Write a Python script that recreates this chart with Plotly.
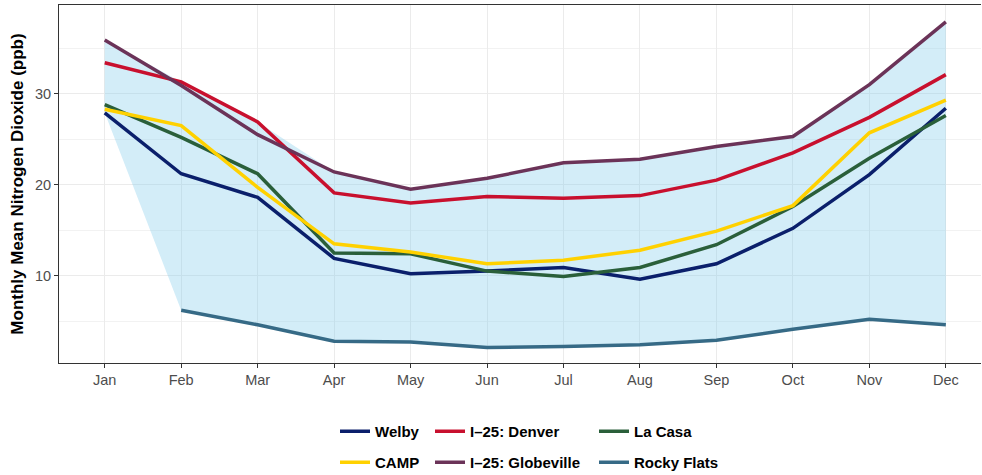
import plotly.graph_objects as go

months = ["Jan", "Feb", "Mar", "Apr", "May", "Jun", "Jul", "Aug", "Sep", "Oct", "Nov", "Dec"]

welby = [27.9, 21.2, 18.6, 11.9, 10.2, 10.5, 10.9, 9.6, 11.3, 15.2, 21.1, 28.4]
denver = [33.4, 31.3, 26.9, 19.1, 18.0, 18.7, 18.5, 18.8, 20.5, 23.5, 27.4, 32.1]
la_casa = [28.8, 25.2, 21.2, 12.5, 12.4, 10.5, 9.9, 10.9, 13.4, 17.6, 22.9, 27.6]
camp = [28.3, 26.5, 19.7, 13.5, 12.6, 11.3, 11.7, 12.8, 14.9, 17.7, 25.7, 29.3]
globeville = [35.9, 30.9, 25.5, 21.4, 19.5, 20.7, 22.4, 22.8, 24.2, 25.3, 31.0, 37.9]
rocky_flats = [None, 6.2, 4.6, 2.8, 2.7, 2.1, 2.2, 2.4, 2.9, 4.1, 5.2, 4.6]

y_ticks = [10, 20, 30]
y_minor = [5, 15, 25, 35]

# name, values, colour, legend id, legend (x, y) in container px
series = [
    ("Welby", welby, "#0A1F6B", "legend", (335, 415)),
    ("I\u201325: Denver", denver, "#C8102E", "legend2", (430, 415)),
    ("La Casa", la_casa, "#2A5F3A", "legend3", (594, 415)),
    ("CAMP", camp, "#FFD100", "legend4", (335, 446)),
    ("I\u201325: Globeville", globeville, "#6B3358", "legend5", (430, 446)),
    ("Rocky Flats", rocky_flats, "#366A86", "legend6", (594, 446)),
]

all_vals = [welby, denver, la_casa, camp, globeville, rocky_flats]
lo = [min(v[i] for v in all_vals if v[i] is not None) for i in range(12)]
hi = [max(v[i] for v in all_vals if v[i] is not None) for i in range(12)]

fig = go.Figure()
fig.add_trace(go.Scatter(x=months, y=lo, mode="lines", line=dict(width=0),
                         showlegend=False, hoverinfo="skip"))
fig.add_trace(go.Scatter(x=months, y=hi, mode="lines", line=dict(width=0),
                         fill="tonexty", fillcolor="rgba(135,206,235,0.37)",
                         showlegend=False, hoverinfo="skip"))

legends = {}
for name, vals, color, lg, (lx, ly) in series:
    fig.add_trace(go.Scatter(x=months, y=vals, mode="lines", name=name,
                             line=dict(color=color, width=3.5), legend=lg))
    legends[lg] = dict(orientation="h", xref="container", yref="container",
                       x=lx / 982, y=(475 - ly) / 475,
                       xanchor="left", yanchor="top", itemwidth=30,
                       bgcolor="rgba(0,0,0,0)",
                       font=dict(family="Liberation Sans, Arial, sans-serif", size=15,
                                 color="#000000", weight="bold"))

fig.update_layout(
    width=982, height=475,
    margin=dict(l=59, r=1, t=5, b=112),
    plot_bgcolor="white", paper_bgcolor="white",
    font=dict(family="Liberation Sans, Arial, sans-serif"),
    xaxis=dict(
        range=[-0.598, 11.46], showline=True, linecolor="#333333", linewidth=1.1,
        mirror=True, ticks="outside", ticklen=4, tickcolor="#333333",
        showgrid=True, gridcolor="#EBEBEB", gridwidth=1.1, zeroline=False,
        tickfont=dict(size=14.5, color="#4D4D4D"),
    ),
    yaxis=dict(
        range=[0.4, 39.75], showline=True, linecolor="#333333", linewidth=1.1,
        ticks="outside", ticklen=4, tickcolor="#333333",
        tickvals=y_ticks, showgrid=True, gridcolor="#EBEBEB", gridwidth=1.1,
        zeroline=False, tickfont=dict(size=14.5, color="#4D4D4D"),
        minor=dict(tickvals=y_minor, showgrid=True, gridcolor="#F2F2F2", gridwidth=0.6, ticks=""),
        title=dict(text="Monthly Mean Nitrogen Dioxide (ppb)", standoff=6,
                   font=dict(size=17, color="#000000", weight="bold")),
    ),
    **legends,
)

fig.write_html("out.html", config={"displayModeBar": False},
               post_script="document.body.style.margin='0';document.body.style.overflow='hidden';")
